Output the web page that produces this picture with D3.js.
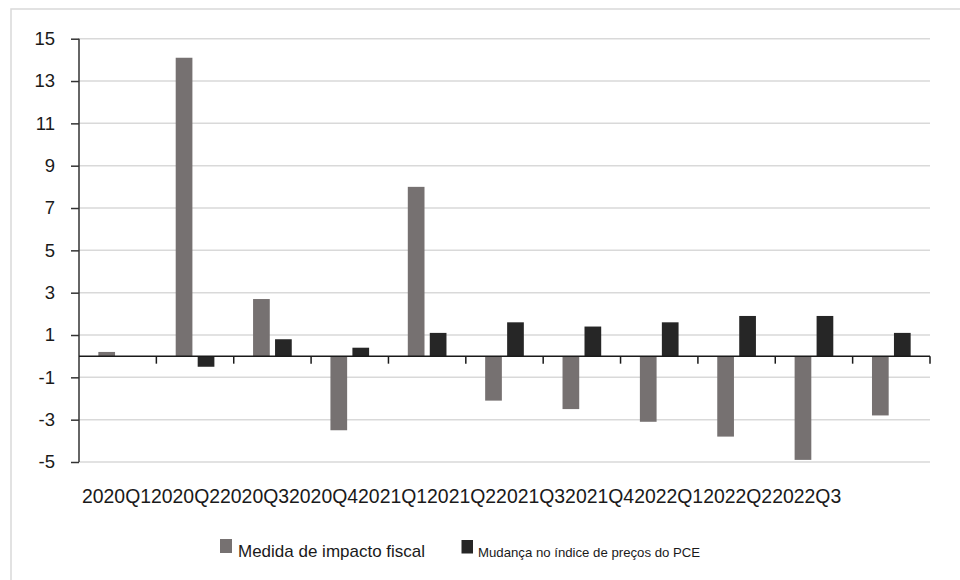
<!DOCTYPE html>
<html>
<head>
<meta charset="utf-8">
<script src="https://cdn.jsdelivr.net/npm/d3@7"></script>
<style>
  html, body { margin: 0; padding: 0; background: #fff; }
  svg { display: block; font-family: "Liberation Sans", Arial, Helvetica, sans-serif; }
</style>
</head>
<body>
<svg id="chart" width="960" height="580"></svg>
<script>
// Quarterly categories
const quarters = ["2020Q1","2020Q2","2020Q3","2020Q4","2021Q1","2021Q2","2021Q3","2021Q4","2022Q1","2022Q2","2022Q3"];
// Fiscal impact measure (percentage points)
const fiscalImpact = [0.2, 14.1, 2.7, -3.5, 8.0, -2.1, -2.5, -3.1, -3.8, -4.9, -2.8];
// Change in PCE price index (percentage points)
const pceChange = [null, -0.5, 0.8, 0.4, 1.1, 1.6, 1.4, 1.6, 1.9, 1.9, 1.1];
// Y axis tick values
const yTicks = [-5, -3, -1, 1, 3, 5, 7, 9, 11, 13, 15];
// Series names and colours
const seriesNames = ["Medida de impacto fiscal", "Mudança no índice de preços do PCE"];
const seriesColors = ["#767171", "#262626"];

const svg = d3.select("#chart");

// Outer frame
svg.append("rect")
  .attr("x", 11).attr("y", 9)
  .attr("width", 960).attr("height", 580)
  .attr("fill", "none").attr("stroke", "#d9d9d9").attr("stroke-width", 1.5);

const plotLeft = 79, plotRight = 930, plotTop = 38.7, plotBottom = 462;

const x = d3.scaleBand().domain(quarters).range([plotLeft, plotRight]).padding(0);
const y = d3.scaleLinear().domain([-5, 15]).range([plotBottom, plotTop]);
const inner = d3.scaleBand().domain([0, 1])
  .range([x.bandwidth() * 0.25, x.bandwidth() * 0.75])
  .paddingInner(0.24).paddingOuter(0);

// Horizontal gridlines
svg.append("g")
  .selectAll("line")
  .data(yTicks)
  .join("line")
  .attr("x1", plotLeft).attr("x2", plotRight)
  .attr("y1", d => y(d)).attr("y2", d => y(d))
  .attr("stroke", "#d9d9d9").attr("stroke-width", 1.5);

// Bars
const rows = quarters.map((q, i) => ({ q, vals: [fiscalImpact[i], pceChange[i]] }));
const groups = svg.append("g")
  .selectAll("g")
  .data(rows)
  .join("g")
  .attr("transform", d => `translate(${x(d.q)},0)`);

groups.selectAll("rect")
  .data(d => d.vals.map((v, k) => ({ v, k })).filter(e => e.v !== null))
  .join("rect")
  .attr("x", e => inner(e.k))
  .attr("width", inner.bandwidth())
  .attr("y", e => y(Math.max(0, e.v)))
  .attr("height", e => Math.abs(y(e.v) - y(0)))
  .attr("fill", e => seriesColors[e.k]);

// Y axis (plain hyphen for negatives)
const yAxis = svg.append("g")
  .attr("transform", `translate(${plotLeft},0)`)
  .call(d3.axisLeft(y).tickValues(yTicks).tickFormat(d => String(d))
    .tickSize(8).tickPadding(16).tickSizeOuter(0));
yAxis.select(".domain").attr("stroke", "#333").attr("stroke-width", 1.5)
  .attr("d", `M0,${plotTop}V${plotBottom}`);
yAxis.selectAll(".tick line").attr("stroke", "#333").attr("stroke-width", 1.5);
yAxis.selectAll(".tick text")
  .attr("fill", "#1a1a1a")
  .style("font-size", "18.5px")
  .style("font-family", "'Liberation Sans', Arial, sans-serif");

// Horizontal axis at zero with ticks between categories
const zeroY = y(0);
const xAxisG = svg.append("g");
xAxisG.append("line")
  .attr("x1", plotLeft).attr("x2", plotRight)
  .attr("y1", zeroY).attr("y2", zeroY)
  .attr("stroke", "#1a1a1a").attr("stroke-width", 1.5);
xAxisG.selectAll("line.tick")
  .data(quarters)
  .join("line")
  .attr("class", "tick")
  .attr("x1", d => x(d) + x.bandwidth()).attr("x2", d => x(d) + x.bandwidth())
  .attr("y1", zeroY).attr("y2", zeroY + 7.5)
  .attr("stroke", "#1a1a1a").attr("stroke-width", 1.5);

// Category labels, set one after another in a single line
const labelLine = svg.append("text")
  .attr("x", 82).attr("y", 502.5)
  .attr("fill", "#1a1a1a")
  .style("font-size", "19.4px");
labelLine.selectAll("tspan")
  .data(quarters)
  .join("tspan")
  .text(d => d);

// Legend
const legend = svg.append("g");
const legendItems = [
  { sx: 220, sy: 539, sw: 12, sh: 14, tx: 238, ty: 557, fs: 17 },
  { sx: 461.5, sy: 540, sw: 11.5, sh: 13.5, tx: 478, ty: 556.5, fs: 13.2 }
];
legendItems.forEach((it, k) => {
  legend.append("rect")
    .attr("x", it.sx).attr("y", it.sy)
    .attr("width", it.sw).attr("height", it.sh)
    .attr("fill", seriesColors[k]);
  legend.append("text")
    .attr("x", it.tx).attr("y", it.ty)
    .attr("fill", "#1a1a1a")
    .style("font-size", it.fs + "px")
    .text(seriesNames[k]);
});
</script>
</body>
</html>
